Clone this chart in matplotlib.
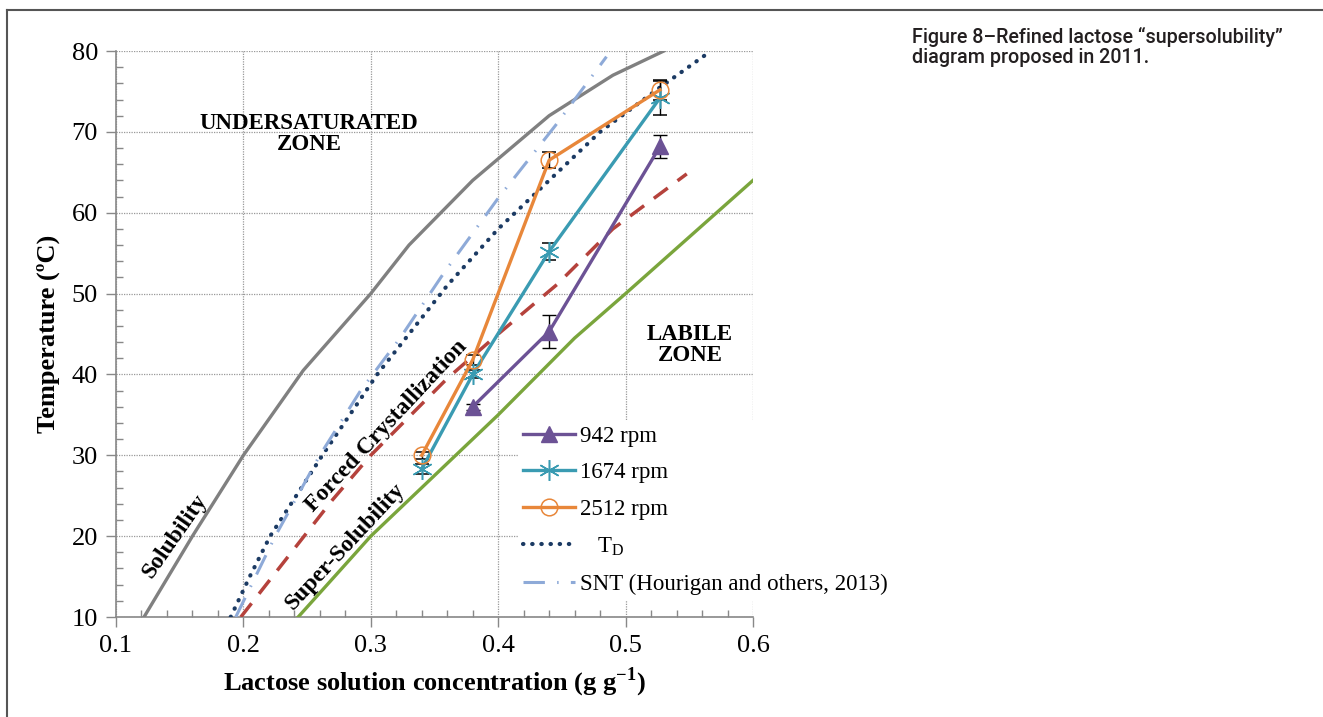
import matplotlib
matplotlib.use("Agg")
import matplotlib.pyplot as plt
from matplotlib.lines import Line2D
from matplotlib.ticker import MultipleLocator

plt.rcParams['font.family'] = ['Liberation Serif', 'DejaVu Serif']
plt.rcParams['mathtext.fontset'] = 'custom'
plt.rcParams['mathtext.rm'] = 'Liberation Serif'
plt.rcParams['mathtext.bf'] = 'Liberation Serif:bold'

# Curvas de referência
sol_x = [0.122, 0.16, 0.20, 0.247, 0.30, 0.33, 0.38, 0.44, 0.49, 0.53]
sol_y = [10, 20, 30, 40.5, 50, 56, 64, 72, 77, 80]

td_x = [0.19, 0.205, 0.221, 0.262, 0.305, 0.36, 0.40, 0.44, 0.48, 0.527, 0.567]
td_y = [10, 15, 20, 30, 40, 51, 58, 64, 70, 75.5, 80]

snt_x = [0.194, 0.225, 0.26, 0.292, 0.323, 0.358, 0.40, 0.445, 0.485]
snt_y = [10, 20, 30, 38, 44.5, 52.7, 61.8, 70.8, 79.3]

forced_x = [0.198, 0.27, 0.30, 0.36, 0.40, 0.446, 0.49, 0.548]
forced_y = [10, 24.5, 30, 39.5, 45, 51.1, 58, 64.8]

super_x = [0.243, 0.30, 0.35, 0.40, 0.46, 0.50, 0.60]
super_y = [10, 20, 27.5, 35, 44.5, 50, 64]

# Dados experimentais
rpm942_x = [0.38, 0.44, 0.527]
rpm942_y = [36, 45.3, 68.2]
rpm942_err = [0.4, 2.0, 1.4]

rpm1674_x = [0.34, 0.38, 0.44, 0.527]
rpm1674_y = [28.3, 40, 55.2, 74.2]
rpm1674_err = [0.6, 0.5, 1.1, 2.1]

rpm2512_x = [0.34, 0.38, 0.44, 0.527]
rpm2512_y = [30, 41.8, 66.5, 75.2]
rpm2512_err = [0.4, 0.6, 1.0, 1.2]

c942 = '#6c5295'
c1674 = '#3a9bb2'
c2512 = '#e8873a'
c_td = '#1b3a63'
c_snt = '#8eaad8'

fig = plt.figure(figsize=(13.23, 7.17), dpi=100)
ax = fig.add_axes([116/1323, 100/717, (753-116)/1323, (617-51)/717])

# Linhas de fronteira
ax.plot(sol_x, sol_y, color='#808080', lw=2.4, zorder=3)
ax.plot(super_x, super_y, color='#7aa53c', lw=2.4, zorder=3)
ax.plot(forced_x, forced_y, color='#b5423c', lw=2.5, linestyle=(0, (5, 3.5)), zorder=3)

td_style = dict(color=c_td, lw=3, linestyle=(0, (0.1, 2.1)), dash_capstyle='round')
snt_style = dict(color=c_snt, lw=2.2, linestyle=(0, (7, 4, 0.5, 4)))
ax.plot(td_x, td_y, zorder=4, **td_style)
ax.plot(snt_x, snt_y, zorder=4, **snt_style)

# Séries medidas
m942 = dict(color=c942, lw=2.4, marker='^', markersize=12)
m1674 = dict(color=c1674, lw=2.4, marker=(6, 2, 0), markersize=15, markeredgewidth=1.1)
m2512 = dict(color=c2512, lw=2.4, marker='o', markersize=12, markerfacecolor='none',
             markeredgewidth=1.1)
eb = dict(ecolor='black', elinewidth=1, capsize=5, capthick=1, zorder=5)
ax.errorbar(rpm942_x, rpm942_y, yerr=rpm942_err, **m942, **eb)
ax.errorbar(rpm1674_x, rpm1674_y, yerr=rpm1674_err, **m1674, **eb)
ax.errorbar(rpm2512_x, rpm2512_y, yerr=rpm2512_err, **m2512, **eb)

ax.set_xlim(0.1, 0.6)
ax.set_ylim(10, 80)
ax.xaxis.set_minor_locator(MultipleLocator(0.02))
ax.yaxis.set_major_locator(MultipleLocator(10))
ax.yaxis.set_minor_locator(MultipleLocator(2))
ax.set_xticks([0.1, 0.2, 0.3, 0.4, 0.5, 0.6])
ax.set_xticklabels(['0.1', '0.2', '0.3', '0.4', '0.5', '0.6'])
ax.tick_params(which='major', direction='out', length=7, width=1, color='#888888',
               labelsize=19, pad=6)
ax.tick_params(which='minor', direction='in', length=5, width=1, color='#888888')
ax.grid(True, which='major', linestyle=(0, (1, 1)), color='#999999', lw=0.9)
for s in ['top', 'right']:
    ax.spines[s].set_visible(False)
for s in ['left', 'bottom']:
    ax.spines[s].set_color('#888888')
    ax.spines[s].set_linewidth(1.2)

ax.set_xlabel('Lactose solution concentration (g g$^{\\mathbf{-1}}$)', fontsize=19,
              fontweight='bold', labelpad=6)
ax.set_ylabel('Temperature (ºC)', fontsize=19, fontweight='bold', labelpad=8)

# Textos das zonas
ax.text(0.2515, 69.7, 'UNDERSATURATED\nZONE', ha='center', va='center', fontsize=16.5,
        fontweight='bold', linespacing=1.0)
ax.text(0.5505, 43.6, 'LABILE\nZONE', ha='center', va='center', fontsize=16.5,
        fontweight='bold', linespacing=1.0)
ax.text(0.1463, 20.0, 'Solubility', rotation=55, ha='center', va='center', fontsize=17,
        fontweight='bold', rotation_mode='anchor')
ax.text(0.2797, 18.7, 'Super-Solubility', rotation=47, ha='center', va='center', fontsize=17,
        fontweight='bold', rotation_mode='anchor')
ax.text(0.3127, 33.6, 'Forced Crystallization', rotation=47, ha='center', va='center',
        fontsize=17, fontweight='bold', rotation_mode='anchor')

handles = [Line2D([], [], **m942), Line2D([], [], **m1674), Line2D([], [], **m2512),
           Line2D([], [], **td_style), Line2D([], [], **snt_style)]
labels = ['942 rpm', '1674 rpm', '2512 rpm', '   T$_{\\rm D}$', 'SNT (Hourigan and others, 2013)']
leg = ax.legend(handles, labels, loc='upper left', bbox_to_anchor=(518/1323, 1 - 421/717),
                bbox_transform=fig.transFigure, fontsize=16.5, frameon=True,
                facecolor='white', edgecolor='none', framealpha=1, fancybox=False,
                borderpad=0.2, labelspacing=0.68, handlelength=2.3, handletextpad=0.2,
                borderaxespad=0)
leg.set_zorder(6)

# Legenda da figura
fig.text(912/1323, 1 - 47/717, 'Figure 8\u2013Refined lactose \u201csupersolubility\u201d\ndiagram proposed in 2011.',
         ha='left', va='center', fontsize=14.2, color='#231f20', linespacing=1.05,
         fontweight='medium', family=['Roboto', 'DejaVu Sans'])

# Moldura
fig.add_artist(Line2D([7/1323, 1], [1 - 10/717, 1 - 10/717], color='#555555', lw=1.5))
fig.add_artist(Line2D([7/1323, 7/1323], [1 - 10/717, 0], color='#555555', lw=1.5))

fig.savefig('out.png', dpi=100)
